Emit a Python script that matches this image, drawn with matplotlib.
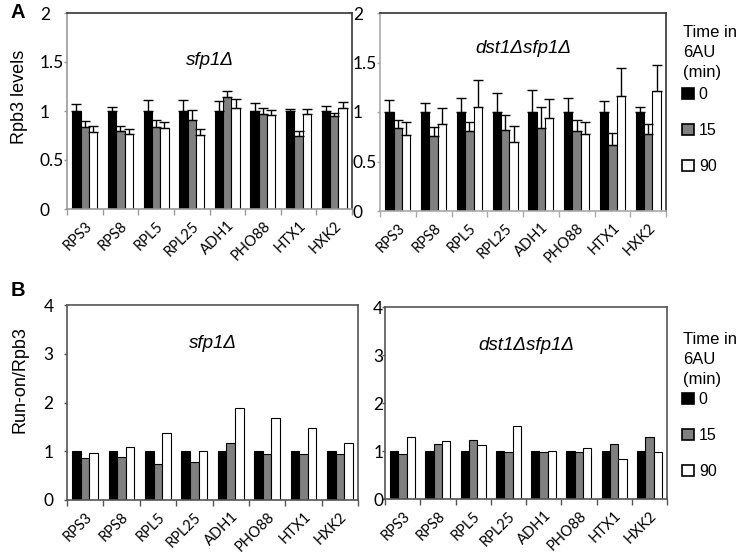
import matplotlib
matplotlib.use("Agg")
import matplotlib.pyplot as plt
import matplotlib.transforms as mtransforms
from matplotlib.patches import Patch
import numpy as np

genes = ["RPS3", "RPS8", "RPL5", "RPL25", "ADH1", "PHO88", "HTX1", "HXK2"]
series_labels = ["0", "15", "90"]

# Panel A: Rpb3 levels, sfp1Δ
a1_t0 = [1.0, 1.0, 1.0, 1.0, 1.0, 1.0, 1.0, 1.0]
a1_t15 = [0.84, 0.80, 0.84, 0.91, 1.14, 0.97, 0.75, 0.95]
a1_t90 = [0.79, 0.77, 0.83, 0.76, 1.03, 0.96, 0.97, 1.03]
a1_e0 = [0.075, 0.044, 0.108, 0.108, 0.105, 0.08, 0.024, 0.054]
a1_e15 = [0.06, 0.05, 0.065, 0.10, 0.06, 0.057, 0.05, 0.027]
a1_e90 = [0.06, 0.045, 0.053, 0.055, 0.09, 0.047, 0.047, 0.058]

# Panel A: Rpb3 levels, dst1Δsfp1Δ
a2_t0 = [1.0, 1.0, 1.0, 1.0, 1.0, 1.0, 1.0, 1.0]
a2_t15 = [0.835, 0.755, 0.805, 0.82, 0.835, 0.805, 0.67, 0.775]
a2_t90 = [0.765, 0.875, 1.05, 0.70, 0.935, 0.78, 1.165, 1.21]
a2_e0 = [0.125, 0.094, 0.138, 0.19, 0.219, 0.138, 0.11, 0.05]
a2_e15 = [0.08, 0.09, 0.095, 0.146, 0.215, 0.11, 0.12, 0.105]
a2_e90 = [0.135, 0.165, 0.27, 0.16, 0.20, 0.118, 0.275, 0.26]

# Panel B: Run-on/Rpb3
b1_t0 = [1.0, 1.0, 1.0, 1.0, 1.0, 1.0, 1.0, 1.0]
b1_t15 = [0.855, 0.89, 0.745, 0.77, 1.165, 0.94, 0.945, 0.94]
b1_t90 = [0.97, 1.08, 1.37, 1.0, 1.88, 1.675, 1.48, 1.165]

b2_t0 = [1.0, 1.0, 1.0, 1.0, 1.0, 1.0, 1.0, 1.0]
b2_t15 = [0.945, 1.145, 1.23, 0.975, 0.975, 0.975, 1.145, 1.29]
b2_t90 = [1.29, 1.20, 1.115, 1.52, 1.0, 1.06, 0.83, 0.975]

colors = ["#000000", "#808080", "#ffffff"]
tick_font = "Lato"
text_font = "Liberation Sans"

W, H = 742.0, 553.0
fig = plt.figure(figsize=(W / 100, H / 100), dpi=100)

def rect(x0, x1, top, bottom):
    return [x0 / W, 1 - bottom / H, (x1 - x0) / W, (bottom - top) / H]

def make_ax(rect_, vals, errs, ymax, yticks, yticklabels, title, title_y, ypad,
            spine_light, spine_dark):
    ax = fig.add_axes(rect_)
    x = np.arange(len(genes))
    w = 0.235
    for i, (v, c) in enumerate(zip(vals, colors)):
        kw = {}
        if errs is not None:
            kw = dict(yerr=[np.zeros(len(v)), errs[i]], capsize=3.5,
                      error_kw=dict(elinewidth=1.0, capthick=1.0, ecolor="black"))
        ax.bar(x + (i - 1) * w, v, w, color=c, edgecolor="black",
               linewidth=0.8, zorder=2, **kw)
    ax.set_xlim(-0.5, len(genes) - 0.5)
    ax.set_ylim(0, ymax)
    ax.set_yticks(yticks)
    ax.set_yticklabels(yticklabels, fontfamily=tick_font, fontsize=12.5)
    for lab in ax.get_yticklabels():
        lab.set_horizontalalignment("left")
    ax.tick_params(axis="y", direction="out", length=2.5, width=1,
                   color=spine_light, pad=ypad)
    ax.set_xticks(np.arange(-0.5, len(genes), 1.0))
    ax.set_xticklabels([])
    ax.set_xticks(x, minor=True)
    ax.set_xticklabels(genes, minor=True, rotation=45, ha="right",
                       rotation_mode="anchor", fontfamily=tick_font, fontsize=10.5)
    off = mtransforms.ScaledTranslation(-5 / 100, 0, fig.dpi_scale_trans)
    for lab in ax.get_xticklabels(minor=True):
        lab.set_transform(lab.get_transform() + off)
    ax.tick_params(axis="x", which="major", direction="out", length=4,
                   width=1, color=spine_light)
    ax.tick_params(axis="x", which="minor", length=0, pad=7)
    ax.spines["left"].set_color(spine_light)
    ax.spines["bottom"].set_color(spine_light)
    ax.spines["top"].set_color(spine_dark)
    ax.spines["right"].set_color(spine_dark)
    for s in ax.spines.values():
        s.set_linewidth(1.2)
    ax.text(0.5, title_y, title, transform=ax.transAxes, ha="center",
            va="center", fontstyle="italic", fontsize=13.5, fontfamily=text_font)
    return ax

def add_legend(title_top_px, first_px):
    fig.text(683 / W, 1 - title_top_px / H, "Time in\n6AU\n(min)",
             ha="left", va="top", fontfamily=text_font, fontsize=12,
             linespacing=1.4)
    handles = [Patch(facecolor=c, edgecolor="black", linewidth=1.2) for c in colors]
    fig.legend(handles, series_labels, loc="upper left",
               bbox_to_anchor=(682 / W, 1 - (first_px - 8) / H),
               frameon=False, handlelength=0.75, handleheight=0.75,
               handletextpad=0.3, labelspacing=1.32, borderaxespad=0,
               borderpad=0, prop={"family": text_font, "size": 11.5})

ya = [0, 0.5, 1, 1.5, 2]
yal = ["0", "0.5", "1", "1.5", "2"]
yb = [0, 1, 2, 3, 4]
ybl = ["0", "1", "2", "3", "4"]

axA1 = make_ax(rect(67, 352, 13, 209), [a1_t0, a1_t15, a1_t90],
               [a1_e0, a1_e15, a1_e90], 2, ya, yal, "sfp1Δ", 0.76, 17,
               "#999999", "#333333")
axA2 = make_ax(rect(380, 666, 13, 211), [a2_t0, a2_t15, a2_t90],
               [a2_e0, a2_e15, a2_e90], 2, ya, yal, "dst1Δsfp1Δ", 0.82, 17,
               "#aaaaaa", "#333333")
axB1 = make_ax(rect(67, 358, 305, 500), [b1_t0, b1_t15, b1_t90], None,
               4, yb, ybl, "sfp1Δ", 0.8, 14.5, "#555555", "#555555")
axB2 = make_ax(rect(385, 667, 307, 499), [b2_t0, b2_t15, b2_t90], None,
               4, yb, ybl, "dst1Δsfp1Δ", 0.8, 6, "#555555", "#555555")

fig.text(20 / W, 1 - 97 / H, "Rpb3 levels", rotation=90, ha="center",
         va="center", fontfamily=text_font, fontsize=13)
fig.text(20 / W, 1 - 380 / H, "Run-on/Rpb3", rotation=90, ha="center",
         va="center", fontfamily=text_font, fontsize=13)

add_legend(25, 95)
add_legend(332, 400)

fig.text(18 / W, 1 - 12 / H, "A", fontsize=14.5, fontweight="bold",
         fontfamily=text_font, va="center", ha="center")
fig.text(18 / W, 1 - 291 / H, "B", fontsize=14.5, fontweight="bold",
         fontfamily=text_font, va="center", ha="center")

fig.savefig("out.png", dpi=100, facecolor="white")
